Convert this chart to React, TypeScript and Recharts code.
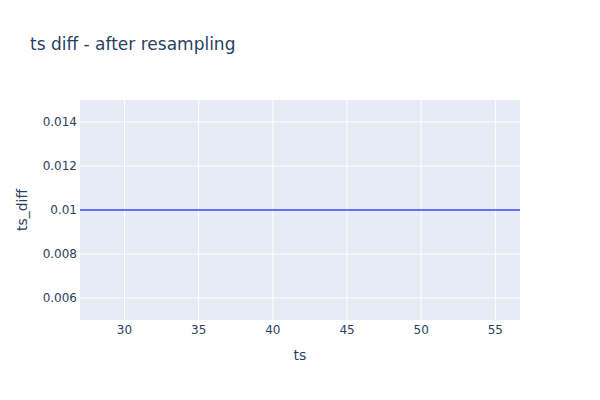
import React from 'react';
import { LineChart, Line, XAxis, YAxis, CartesianGrid, Label } from 'recharts';

// values (flat diff after resampling)
const tsValues = [27, 30, 35, 40, 45, 50, 55, 56.66];
const tsDiffValues = [0.01, 0.01, 0.01, 0.01, 0.01, 0.01, 0.01, 0.01];
const xTicks = [30, 35, 40, 45, 50, 55];
const yTicks = [0.006, 0.008, 0.01, 0.012, 0.014];

const FONT = '"DejaVu Sans", verdana, arial, sans-serif';
const TEXT = '#2a3f5f';

const data = tsValues.map((ts, i) => ({ ts, ts_diff: tsDiffValues[i] }));

const App = () => {
  return (
    <div style={{ position: 'absolute', left: 0, top: 0, width: 600, height: 400, background: '#fff', fontFamily: FONT }}>
      <div style={{ position: 'absolute', left: 30, top: 36, fontSize: 17, lineHeight: '17px', color: TEXT, whiteSpace: 'nowrap' }}>
        ts diff - after resampling
      </div>
      <LineChart width={600} height={400} data={data} margin={{ top: 100, right: 80, left: 0, bottom: 0 }}>
        <CartesianGrid fill="#e5ecf6" stroke="#fff" strokeWidth={1} horizontalValues={yTicks} verticalValues={xTicks} />
        <XAxis
          dataKey="ts"
          type="number"
          domain={[27, 56.66]}
          ticks={xTicks}
          allowDataOverflow
          axisLine={false}
          tickLine={false}
          tickSize={0}
          tickMargin={5}
          height={80}
          tick={{ fill: TEXT, fontSize: 12, fontFamily: FONT }}
        >
          <Label
            content={() => (
              <text x={300} y={360} textAnchor="middle" fill={TEXT} fontSize={14} fontFamily={FONT}>ts</text>
            )}
          />
        </XAxis>
        <YAxis
          type="number"
          domain={[0.005, 0.015]}
          ticks={yTicks}
          allowDataOverflow
          axisLine={false}
          tickLine={false}
          tickSize={0}
          tickMargin={3}
          width={80}
          tickFormatter={(v: number) => String(v)}
          tick={{ fill: TEXT, fontSize: 12, fontFamily: FONT }}
        >
          <Label
            content={() => (
              <text x={27} y={210} transform="rotate(-90 27 210)" textAnchor="middle" fill={TEXT} fontSize={14} fontFamily={FONT}>ts_diff</text>
            )}
          />
        </YAxis>
        <Line
          type="linear"
          dataKey="ts_diff"
          stroke="#636efa"
          strokeWidth={2}
          dot={false}
          isAnimationActive={false}
        />
      </LineChart>
    </div>
  );
};

export default App;
